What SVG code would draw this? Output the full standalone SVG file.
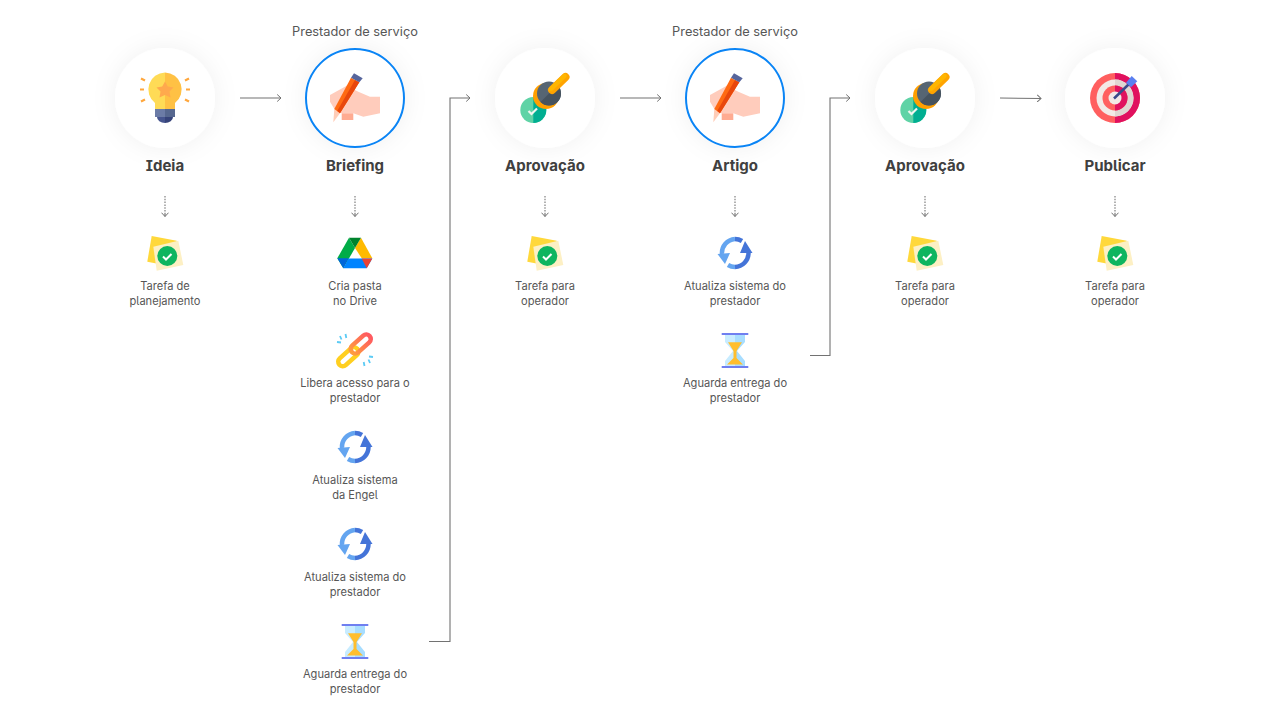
<svg xmlns="http://www.w3.org/2000/svg" width="1280" height="720" viewBox="0 0 1280 720">
<style>
text{font-family:"Inter","Noto Sans",sans-serif;fill:#565656;text-anchor:middle;font-feature-settings:"ss02","cv08"}
.sub{font-size:11.1px}
.top{font-size:12.8px}
.name{font-size:15px;font-weight:700;fill:#404040}
.c{fill:#fff;filter:url(#sh)}
.ring{fill:none;stroke:#0a84f5;stroke-width:2}
.ln{fill:none;stroke:#727272;stroke-width:1.100}
.dot{fill:none;stroke:#727272;stroke-width:1.100;stroke-dasharray:1.500 1.300}
</style>
<defs>
<filter id="sh" x="-50%" y="-50%" width="200%" height="200%"><feDropShadow dx="0" dy="0" stdDeviation="12" flood-color="#000" flood-opacity=".06"/></filter>
<marker id="ah" viewBox="0 0 6 8" refX="5" refY="4" markerWidth="6" markerHeight="8" markerUnits="userSpaceOnUse" orient="auto"><path d="M1.200 .5L5 4L1.200 7.500" fill="none" stroke="#727272" stroke-width="1"/></marker>
<g id="bulb">
<path d="M0-25.500A17 17 0 0 0-10 5V11H0Z" fill="#ffdb56"/><path d="M0-25.500A17 17 0 0 1 10 5V11H0Z" fill="#ffc144"/>
<path d="M0-16.500L2.800-11.500 8.500-10.500 4.500-6.500 5.500-.5 0-3-5.500-.5-4.500-6.500-8.500-10.500-2.800-11.500Z" fill="#ffa94d"/>
<path d="M-10 11H0V19H-10Z" fill="#6b7ba6"/><path d="M0 11H10V19H0Z" fill="#56678f"/>
<path d="M-8 19H0V25A8 6 0 0 1-8 19Z" fill="#46558f"/><path d="M8 19H0V25A8 6 0 0 0 8 19Z" fill="#36437a"/>
<path d="M-25-8.500H-21M21-8.500H25M-24-19.500L-20-17.500M24-19.500L20-17.500M-24 3.500L-20 1.500M24 3.500L20 1.500" stroke="#ffa73d" stroke-width="2.200"/>
</g>
<g id="hand">
<path d="M-25-3L-8.300-12.300 3.300-6.300 15-1.300H25V15.300L8.300 18.700-1.700 15.300-13.300 15.300-20 12-25 3.700Z" fill="#ffccbc"/>
<path d="M-13.300 15.300H-1.700V22H-13.300Z" fill="#ffab91"/>
<path d="M-20.700 11L-15 15.300-21.700 24.300Z" fill="#ffcdb8"/>
<path d="M-4-20.300L4.300-15.700-15 15.300-20.700 11Z" fill="#ff6a13"/>
<path d="M0-18L4.300-15.700-15 15.300-17.800 13Z" fill="#e8470c"/>
<path d="M-1-24.700L7.700-19.700 4.300-15.700-4-20.300Z" fill="#56659c"/>
</g>
<g id="stamp">
<circle cx="-11.700" cy="12" r="13" fill="#5fd3a6"/><path d="M-11.700-1A13 13 0 0 1-11.700 25Z" fill="#00ae91"/>
<path d="M-16.500 13L-13.500 16-8 10.500" fill="none" stroke="#f1f5f0" stroke-width="2.200"/>
<circle cx="1" cy="-2" r="13" fill="#ff9f00"/>
<circle cx="4" cy="-4.500" r="12" fill="#566573"/>
<path d="M12.500-13A12 12 0 0 1-4.500 4Z" fill="#46535f"/>
<path d="M7-8L20.500-21" stroke="#ffa400" stroke-width="8" stroke-linecap="round"/>
<path d="M6-9L19.500-22" stroke="#ffb600" stroke-width="4.500" stroke-linecap="round"/>
</g>
<g id="target">
<circle r="25" fill="#ff5f5f"/><path d="M0-25A25 25 0 0 1 0 25Z" fill="#e0115f"/>
<circle r="18.500" fill="#f3e9e6"/><path d="M0-18.500A18.500 18.500 0 0 1 0 18.500Z" fill="#e0d6d2"/>
<circle r="12.500" fill="#ff5f5f"/><path d="M0-12.500A12.500 12.500 0 0 1 0 12.500Z" fill="#e0115f"/>
<circle r="6.500" fill="#f3e9e6"/>
<path d="M-1 .5L14-14" stroke="#3a4a8a" stroke-width="2.500"/>
<path d="M11-15.300L16.700-22 22.300-16.700 16-10.700Z" fill="#5b7ff0"/>
</g>
<g id="note">
<path d="M-13.300-19L11.700-14.300 8.300 11.700-17.700 6.700Z" fill="#ffd83b"/>
<path d="M-11.700-8.300L13.300-14.300 18.300 10-8.300 15.700Z" fill="#fdf0c4"/>
<circle cx="2.300" cy="1" r="10" fill="#0fb55f"/>
<path d="M-2 1.500L1 4.500 6.500-1" fill="none" stroke="#fff" stroke-width="2"/>
</g>
<g id="drive">
<path d="M-6-15.300L0-5-11.700 15.300-17.700 5.300Z" fill="#00ac47"/>
<path d="M6-15.300L17.300 5.300H6.700L0-5Z" fill="#ffba00"/>
<path d="M-6-15.300H6L0-5Z" fill="#00832d"/>
<path d="M-6.700 5.500H17.300L11.700 15.300H-11.700Z" fill="#0084ff"/>
<path d="M-17.700 5.300H-6.700L-11.700 15.300Z" fill="#0066da"/>
<path d="M6.700 5.500H17.300L11.700 15.300Z" fill="#ea4335"/>
</g>
<g id="link">
<rect x="-12" y="-4.500" width="24" height="9" rx="4.500" transform="translate(-6.700 6.700)rotate(-42)" fill="none" stroke="#ffcf20" stroke-width="4.500"/>
<rect x="-12" y="-4.500" width="24" height="9" rx="4.500" transform="translate(5.700 -6)rotate(-42)" fill="none" stroke="url(#lg)" stroke-width="4.500"/>
<path d="M-15-14L-13.500-10.500M-9.500-16L-8.700-12M-18-8L-14-7.500M15 13L13.500 9.500M9.500 16L8.700 12M18 7L14 6.500" stroke="#5ccbf5" stroke-width="1.800"/>
</g>
<linearGradient id="lg" x1="0" x2="1" y1="0" y2="0"><stop offset="0" stop-color="#ff9c40"/><stop offset="1" stop-color="#ff5a60"/></linearGradient>
<g id="sync">
<g fill="none" stroke-width="4.500">
<path d="M-13 1A14 14 0 0 1 0-14M-7 12A14 14 0 0 0 0 14" stroke="#64a5f0"/>
<path d="M0-14A14 14 0 0 1 7-12M0 14A14 14 0 0 0 13.500 0" stroke="#4474d8"/>
</g>
<path d="M-17.500 1L-5 0-10 11Z" fill="#64a5f0"/><path d="M10-12L17.500 0H5Z" fill="#4474d8"/>
</g>
<g id="glass">
<path d="M-10-16H0V16H-10V10L-2 0-10-9Z" fill="#c8ecff"/><path d="M10-16H0V16H10V10L2 0 10-9Z" fill="#a7ddff"/>
<path d="M-7-8.700H7L1.500 0V7L8 13.500H-8L-1.500 7V0Z" fill="#ffbe2e"/>
<path d="M-13.300-18H13.300V-16H-13.300ZM-13.300 15H13.300V17H-13.300Z" fill="#6f7ff0"/>
</g>
</defs>
<rect width="1280" height="720" fill="#fff"/>
<g id="connectors">
<path class="ln" marker-end="url(#ah)" d="M240 98H281"/>
<path class="ln" marker-end="url(#ah)" d="M620 98H661"/>
<path class="ln" marker-end="url(#ah)" d="M1000 98L1041 98.500"/>
<path class="ln" marker-end="url(#ah)" d="M429 641.500H450V98H470"/>
<path class="ln" marker-end="url(#ah)" d="M810 355.500H830V98H850"/>
<path class="dot" d="M165 196V215"/><path class="ln" marker-end="url(#ah)" d="M165 214V216.500"/>
<path class="dot" d="M355 196V215"/><path class="ln" marker-end="url(#ah)" d="M355 214V216.500"/>
<path class="dot" d="M545 196V215"/><path class="ln" marker-end="url(#ah)" d="M545 214V216.500"/>
<path class="dot" d="M735 196V215"/><path class="ln" marker-end="url(#ah)" d="M735 214V216.500"/>
<path class="dot" d="M925 196V215"/><path class="ln" marker-end="url(#ah)" d="M925 214V216.500"/>
<path class="dot" d="M1115 196V215"/><path class="ln" marker-end="url(#ah)" d="M1115 214V216.500"/>
</g>
<g id="n-ideia"><circle class="c" cx="165" cy="98" r="50"/><use href="#bulb" x="165" y="98"/><text class="name" x="165" y="171">Ideia</text></g>
<g id="n-briefing"><text class="top" x="355" y="36">Prestador de serviço</text><circle class="c" cx="355" cy="98" r="50"/><circle class="ring" cx="355" cy="98" r="49"/><use href="#hand" x="355" y="98"/><text class="name" x="355" y="171">Briefing</text></g>
<g id="n-aprovacao1"><circle class="c" cx="545" cy="98" r="50"/><use href="#stamp" x="545" y="98"/><text class="name" x="545" y="171">Aprovação</text></g>
<g id="n-artigo"><text class="top" x="735" y="36">Prestador de serviço</text><circle class="c" cx="735" cy="98" r="50"/><circle class="ring" cx="735" cy="98" r="49"/><use href="#hand" x="735" y="98"/><text class="name" x="735" y="171">Artigo</text></g>
<g id="n-aprovacao2"><circle class="c" cx="925" cy="98" r="50"/><use href="#stamp" x="925" y="98"/><text class="name" x="925" y="171">Aprovação</text></g>
<g id="n-publicar"><circle class="c" cx="1115" cy="98" r="50"/><use href="#target" x="1115" y="98"/><text class="name" x="1115" y="171">Publicar</text></g>
<g id="t-planejamento"><use href="#note" x="165" y="255"/><text class="sub" x="165" y="290">Tarefa de</text><text class="sub" x="165" y="305">planejamento</text></g>
<g id="t-drive"><use href="#drive" x="355" y="253"/><text class="sub" x="355" y="290">Cria pasta</text><text class="sub" x="355" y="305">no Drive</text></g>
<g id="t-libera"><use href="#link" x="355" y="350"/><text class="sub" x="355" y="387">Libera acesso para o</text><text class="sub" x="355" y="402">prestador</text></g>
<g id="t-engel"><use href="#sync" x="355" y="447"/><text class="sub" x="355" y="484">Atualiza sistema</text><text class="sub" x="355" y="499">da Engel</text></g>
<g id="t-sist1"><use href="#sync" x="355" y="544"/><text class="sub" x="355" y="581">Atualiza sistema do</text><text class="sub" x="355" y="596">prestador</text></g>
<g id="t-aguarda1"><use href="#glass" x="355" y="642"/><text class="sub" x="355" y="678">Aguarda entrega do</text><text class="sub" x="355" y="693">prestador</text></g>
<g id="t-op1"><use href="#note" x="545" y="255"/><text class="sub" x="545" y="290">Tarefa para</text><text class="sub" x="545" y="305">operador</text></g>
<g id="t-sist2"><use href="#sync" x="735" y="253"/><text class="sub" x="735" y="290">Atualiza sistema do</text><text class="sub" x="735" y="305">prestador</text></g>
<g id="t-aguarda2"><use href="#glass" x="735" y="351"/><text class="sub" x="735" y="387">Aguarda entrega do</text><text class="sub" x="735" y="402">prestador</text></g>
<g id="t-op2"><use href="#note" x="925" y="255"/><text class="sub" x="925" y="290">Tarefa para</text><text class="sub" x="925" y="305">operador</text></g>
<g id="t-op3"><use href="#note" x="1115" y="255"/><text class="sub" x="1115" y="290">Tarefa para</text><text class="sub" x="1115" y="305">operador</text></g>
</svg>
